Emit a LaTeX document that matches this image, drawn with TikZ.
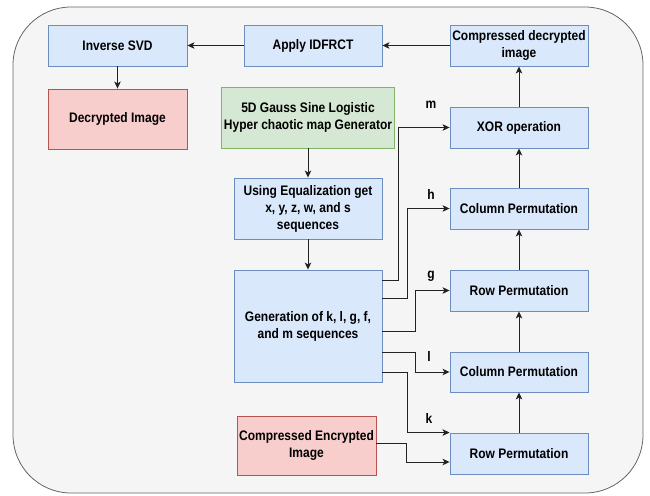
\documentclass[tikz,border=0pt]{standalone}
\usepackage{fontspec}
\setmainfont{Liberation Sans}[FakeStretch=0.87]
\usetikzlibrary{arrows.meta}
\definecolor{bluefill}{HTML}{DAE8FC}
\definecolor{bluedraw}{HTML}{6C8EBF}
\definecolor{redfill}{HTML}{F8CECC}
\definecolor{reddraw}{HTML}{B85450}
\definecolor{greenfill}{HTML}{D5E8D4}
\definecolor{greendraw}{HTML}{82B366}
\definecolor{bgfill}{HTML}{F5F5F5}
\definecolor{bgdraw}{HTML}{666666}
\definecolor{linecol}{HTML}{222222}
\begin{document}
\begin{tikzpicture}[x=1pt,y=-1pt,
  every node/.style={font=\fontsize{13.8pt}{17pt}\selectfont\bfseries, align=center, inner sep=1pt},
  bluebox/.style={draw=bluedraw, fill=bluefill, line width=0.9pt, minimum width=138pt, minimum height=41pt},
  redbox/.style={draw=reddraw, fill=redfill, line width=0.9pt},
  greenbox/.style={draw=greendraw, fill=greenfill, line width=0.9pt},
  arr/.style={draw=linecol, line width=0.9pt, -{Stealth[length=7pt,width=6.5pt,inset=1.8pt]}},
  lbl/.style={inner sep=0pt}
]
\useasboundingbox (0,0) rectangle (650,495);
\draw[draw=bgdraw, fill=bgfill, line width=0.8pt, rounded corners=58pt] (13,7) rectangle (643,493);

\node[bluebox, minimum width=139pt] (isvd) at (117.5,45.5) {Inverse SVD};
\node[bluebox] (idfrct) at (313,45.5) {Apply IDFRCT};
\node[bluebox] (cdi) at (519,45.5) {Compressed decrypted\\image};
\node[redbox, minimum width=139pt, minimum height=60pt] (dec) at (117.5,119) {Decrypted Image};
\node[greenbox, minimum width=173pt, minimum height=61pt] (fived) at (308,117.5) {5D Gauss Sine Logistic\\Hyper chaotic map Generator};
\node[bluebox] (xor) at (519,127.5) {XOR operation};
\node[bluebox, minimum width=148pt, minimum height=61pt] (useq) at (308,208.5) {Using Equalization get\\x, y, z, w, and s\\sequences};
\node[bluebox] (col1) at (519,208.5) {Column Permutation};
\node[bluebox, minimum width=148pt, minimum height=112pt] (gen) at (308,326) {Generation of k, l, g, f,\\and m sequences};
\node[bluebox] (row1) at (519,290.5) {Row Permutation};
\node[bluebox, minimum height=40pt] (col2) at (519,372) {Column Permutation};
\node[bluebox] (row2) at (519,453.5) {Row Permutation};
\node[redbox, minimum width=139pt, minimum height=59pt] (cei) at (306.5,445.5) {Compressed Encrypted\\Image};

\draw[arr] (cdi) -- (idfrct);
\draw[arr] (idfrct) -- (isvd);
\draw[arr] (isvd) -- (dec);
\draw[arr] (fived) -- (useq);
\draw[arr] (useq) -- (gen);
\draw[arr] (xor) -- (cdi);
\draw[arr] (col1) -- (xor);
\draw[arr] (row1) -- (col1);
\draw[arr] (col2) -- (row1);
\draw[arr] (row2) -- (col2);

\draw[arr] ([yshift=46pt]gen.east) -- ++(16,0) |- (xor.west);
\draw[arr] ([yshift=28pt]gen.east) -- ++(25,0) |- (col1.west);
\draw[arr] ([yshift=-5pt]gen.east) -- ++(33,0) |- (row1.west);
\draw[arr] ([yshift=-26pt]gen.east) -- ++(33,0) |- (col2.west);
\draw[arr] ([yshift=-46pt]gen.east) -- ++(25,0) |- (row2.north west);
\draw[arr] ([yshift=2.5pt]cei.east) -- ++(30,0) |- ([yshift=-8.5pt]row2.west);

\node[lbl] (lm) at (431,105) {m};
\node[lbl] (lh) at (431,194) {h};
\node[lbl] (lg) at (431,276) {g};
\node[lbl] (ll) at (429,356) {l};
\node[lbl] (lk) at (429,418) {k};
\end{tikzpicture}
\end{document}
